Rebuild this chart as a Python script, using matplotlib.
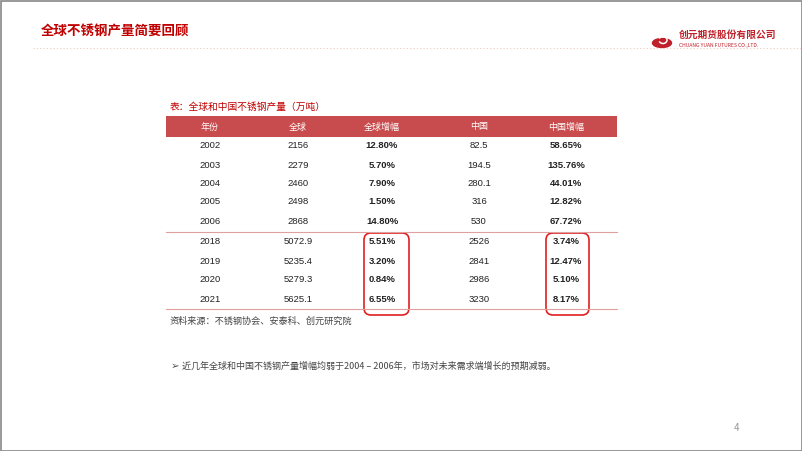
import matplotlib
matplotlib.use("Agg")
from matplotlib import pyplot as plt
from matplotlib.patches import Rectangle, FancyBboxPatch, Ellipse, Arc

plt.rcParams['font.family'] = ['Noto Sans CJK SC', 'DejaVu Sans']

# table data
headers = ["年份", "全球", "全球增幅", "中国", "中国增幅"]
years = ["2002", "2003", "2004", "2005", "2006", "2018", "2019", "2020", "2021"]
world = ["2156", "2279", "2460", "2498", "2868", "5072.9", "5235.4", "5279.3", "5625.1"]
world_growth = ["12.80%", "5.70%", "7.90%", "1.50%", "14.80%", "5.51%", "3.20%", "0.84%", "6.55%"]
china = ["82.5", "194.5", "280.1", "316", "530", "2526", "2841", "2986", "3230"]
china_growth = ["58.65%", "135.76%", "44.01%", "12.82%", "67.72%", "3.74%", "12.47%", "5.10%", "8.17%"]

title = "全球不锈钢产量简要回顾"
caption = "表：全球和中国不锈钢产量（万吨）"
source = "资料来源：不锈钢协会、安泰科、创元研究院"
note = "近几年全球和中国不锈钢产量增幅均弱于2004 – 2006年，市场对未来需求端增长的预期减弱。"

RED = "#C00000"
HEAD = "#C84B4D"

fig = plt.figure(figsize=(8.02, 4.51), dpi=100)
ax = fig.add_axes([0, 0, 1, 1])
ax.set_xlim(0, 802)
ax.set_ylim(451, 0)
ax.axis("off")

# frame
ax.add_patch(Rectangle((0.5, 0.5), 801, 450, fill=False, ec="#888888", lw=1.2))

# title + dotted rule
ax.text(41, 31, title, color=RED, fontsize=9.7, fontweight="bold", va="center")
ax.plot([33, 802], [48, 48], color="#f0c8c0", lw=0.8, ls=(0, (1, 2)))

# logo
ax.add_patch(Ellipse((662, 43), 19, 9, color="#C0202A"))
ax.add_patch(Arc((663, 40), 8, 7, theta1=200, theta2=520, color="white", lw=1.1))
ax.text(679, 35, "创元期货股份有限公司", color="#C0202A", fontsize=7, fontweight="bold", va="center")
ax.text(679, 45, "CHUANG YUAN FUTURES CO.,LTD.", color="#C0202A", fontsize=3.6, va="center")

# caption
ax.text(170, 107, caption, color=RED, fontsize=7, va="center")

# header bar
x_left, x_right = 166, 617
ax.add_patch(Rectangle((x_left, 116), x_right - x_left, 21, color=HEAD, lw=0))
col_x = [210, 298, 382, 479, 566]
for cx, h in zip(col_x, headers):
    ax.text(cx, 127, h, color="white", fontsize=6.5, ha="center", va="center")

row_y = [146, 165, 184, 202, 221, 242, 261, 280, 299]
for i in range(len(years)):
    y = row_y[i]
    vals = [years[i], world[i], world_growth[i], china[i], china_growth[i]]
    for j, (cx, v) in enumerate(zip(col_x, vals)):
        bold = j in (2, 4)
        ax.text(cx, y, v, color="#222222", fontsize=6.8, ha="center", va="center",
                fontweight="bold" if bold else "normal", family="Liberation Sans")

# separator lines
ax.plot([x_left, x_right], [232, 232], color="#E0A0A0", lw=0.8)
ax.plot([x_left, x_right], [309, 309], color="#E0A0A0", lw=0.8)

# highlight boxes
for bx, bw in [(364, 45), (546, 43)]:
    ax.add_patch(FancyBboxPatch((bx, 233), bw, 82, boxstyle="round,pad=0,rounding_size=7",
                                fill=False, ec="#E02020", lw=1.2))

# source
ax.text(170, 321, source, color="#444444", fontsize=6.6, va="center")

# bullet note
ax.text(171, 366, "➢", color="#555555", fontsize=7.5, va="center", family="DejaVu Sans")
ax.text(182, 366, note, color="#444444", fontsize=6.5, va="center")

# page number
ax.text(737, 428, "4", color="#999999", fontsize=7, ha="center", va="center")

fig.savefig("out.png", dpi=100)
